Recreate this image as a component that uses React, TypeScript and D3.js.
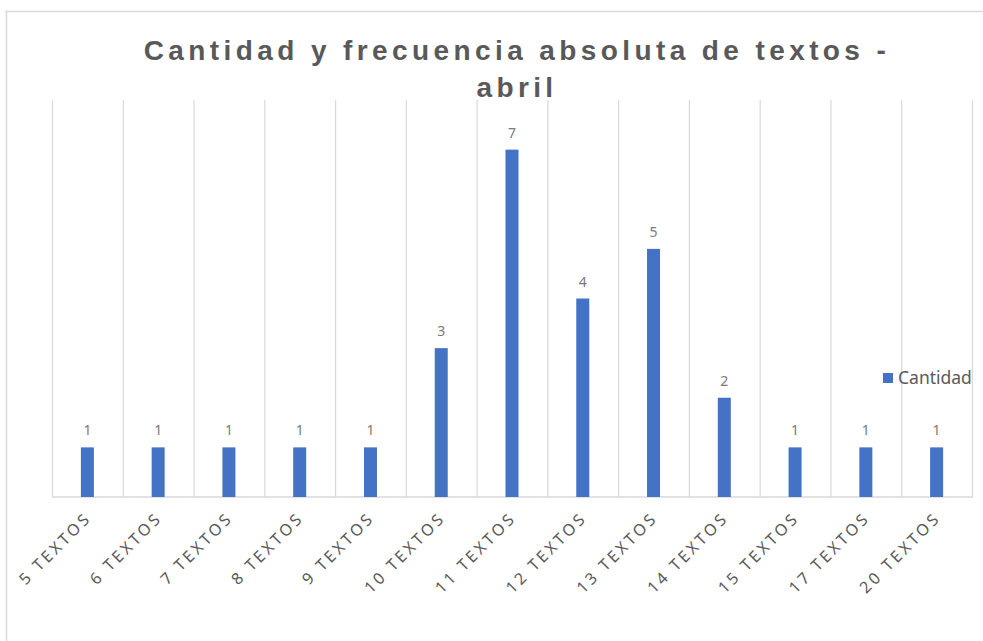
import React from "react";
import * as d3 from "d3";

const categories = ["5 TEXTOS", "6 TEXTOS", "7 TEXTOS", "8 TEXTOS", "9 TEXTOS", "10 TEXTOS", "11 TEXTOS", "12 TEXTOS", "13 TEXTOS", "14 TEXTOS", "15 TEXTOS", "17 TEXTOS", "20 TEXTOS"];
const cantidad = [1, 1, 1, 1, 1, 3, 7, 4, 5, 2, 1, 1, 1];
const seriesName = "Cantidad";
const titleLines = ["Cantidad y frecuencia absoluta de textos -", "abril"];

export default function App() {
  const W = 983, H = 641;
  const plot = { left: 52, right: 972, top: 100, bottom: 497 };
  const x = d3.scaleBand<string>().domain(categories).range([plot.left, plot.right]).padding(0);
  const y = d3.scaleLinear().domain([0, 8]).range([plot.bottom, plot.top]);
  const barW = 13;
  const grey = "#595959";
  const gridC = "#d9d9d9";
  const bounds = categories.map((c) => x(c)!).concat([plot.right]);
  return (
    <svg width={W} height={H} style={{ position: "absolute", left: 0, top: 0, background: "#fff" }}>
      <rect x={0} y={0} width={W} height={H} fill="#fff" />
      <line x1={5} x2={W} y1={11.5} y2={11.5} stroke={gridC} strokeWidth={1.5} />
      <line x1={6.5} x2={6.5} y1={11} y2={H} stroke={gridC} strokeWidth={1.5} />
      {titleLines.map((t, i) => (
        <text key={i} x={517} y={60 + i * 37} textAnchor="middle" fontFamily="Liberation Sans, Arial, sans-serif" fontWeight="bold" fontSize={28} letterSpacing={4.4} fill={grey}>{t}</text>
      ))}
      {bounds.map((b, i) => (
        <line key={i} x1={b + 0.5} x2={b + 0.5} y1={plot.top} y2={plot.bottom} stroke={gridC} strokeWidth={1.2} />
      ))}
      <line x1={plot.left} x2={plot.right + 1} y1={plot.bottom} y2={plot.bottom} stroke={gridC} strokeWidth={1.5} />
      {categories.map((c, i) => {
        const cx = x(c)! + x.bandwidth() / 2;
        return (
          <g key={c}>
            <rect x={cx - barW / 2} y={y(cantidad[i])} width={barW} height={y(0) - y(cantidad[i])} fill="#4472c4" />
            <text x={cx} y={y(cantidad[i]) - 12} textAnchor="middle" fontFamily="Noto Sans, sans-serif" fontSize={14} fill="#7a7a7a">{cantidad[i]}</text>
            <text transform={`translate(${cx + 5},${plot.bottom + 22}) rotate(-45)`} textAnchor="end" fontFamily="Noto Sans, sans-serif" fontSize={16} letterSpacing={3} fill={grey}>{c}</text>
          </g>
        );
      })}
      <rect x={883} y={373} width={10} height={10} fill="#4472c4" />
      <text x={898} y={384} fontFamily="Noto Sans, sans-serif" fontSize={17.5} fill={grey}>{seriesName}</text>
    </svg>
  );
}
